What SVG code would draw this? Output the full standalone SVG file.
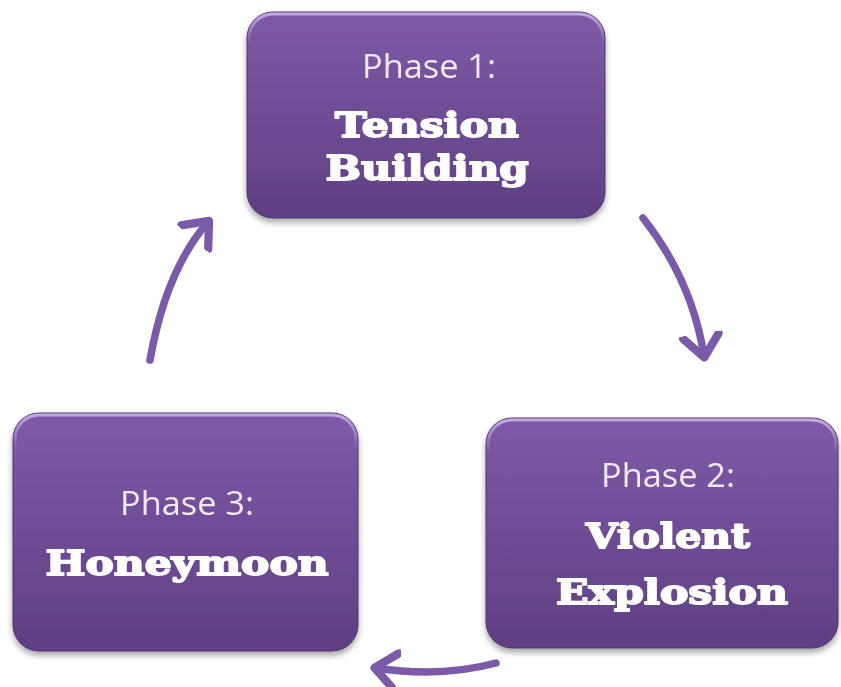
<svg xmlns="http://www.w3.org/2000/svg" width="841" height="687" viewBox="0 0 841 687">
<defs>
<linearGradient id="g" x1="0" y1="0" x2="0" y2="1">
<stop offset="0" stop-color="#7f5aa8"/>
<stop offset="1" stop-color="#5f3f82"/>
</linearGradient>
<linearGradient id="hl" x1="0" y1="0" x2="0" y2="1">
<stop offset="0" stop-color="#c9b2e6" stop-opacity="0.9"/>
<stop offset="0.15" stop-color="#c9b2e6" stop-opacity="0"/>
</linearGradient>
<filter id="sh" x="-10%" y="-10%" width="120%" height="125%">
<feGaussianBlur in="SourceAlpha" stdDeviation="3"/>
<feOffset dx="0" dy="4"/>
<feComponentTransfer><feFuncA type="linear" slope="0.35"/></feComponentTransfer>
<feMerge><feMergeNode/><feMergeNode in="SourceGraphic"/></feMerge>
</filter>
<marker id="ah" markerWidth="6" markerHeight="6" refX="3" refY="3" orient="auto" markerUnits="strokeWidth">
<path d="M0.3,0.6 L3.2,3 L0.3,5.4" fill="none" stroke="#7b5aa9" stroke-width="1.1" stroke-linecap="round" stroke-linejoin="round"/>
</marker>
</defs>
<style>
.box{fill:url(#g);stroke:#4f3470;stroke-width:1}
.hl{fill:none;stroke:url(#hl);stroke-width:3}
.ph{font-family:"Open Sans","Liberation Sans",sans-serif;font-size:32px;fill:#f1eaf5;text-anchor:middle}
.bd{font-family:"DejaVu Serif","Liberation Serif",serif;font-weight:bold;font-size:34px;fill:#ffffff;stroke:#ffffff;stroke-width:1.8;stroke-linejoin:round;text-anchor:middle}
.con{fill:none;stroke:#7b5aa9;stroke-width:7.5;stroke-linecap:round;marker-end:url(#ah)}
</style>
<rect width="841" height="687" fill="#ffffff"/>
<g id="node1" filter="url(#sh)">
<rect class="box" x="247" y="12" width="358" height="206" rx="26"/>
<rect class="hl" x="249" y="14" width="354" height="202" rx="24"/>
<text class="ph" x="429" y="78" textLength="134" lengthAdjust="spacingAndGlyphs">Phase 1:</text>
<text class="bd" x="427" y="137" textLength="184" lengthAdjust="spacingAndGlyphs">Tension</text>
<text class="bd" x="427" y="180" textLength="203" lengthAdjust="spacingAndGlyphs">Building</text>
</g>
<g id="node2" filter="url(#sh)">
<rect class="box" x="486" y="418" width="352" height="230" rx="26"/>
<rect class="hl" x="488" y="420" width="348" height="226" rx="24"/>
<text class="ph" x="668" y="487" textLength="134" lengthAdjust="spacingAndGlyphs">Phase 2:</text>
<text class="bd" x="668" y="548" textLength="164" lengthAdjust="spacingAndGlyphs">Violent</text>
<text class="bd" x="672" y="604" textLength="232" lengthAdjust="spacingAndGlyphs">Explosion</text>
</g>
<g id="node3" filter="url(#sh)">
<rect class="box" x="13" y="413" width="345" height="238" rx="26"/>
<rect class="hl" x="15" y="415" width="341" height="234" rx="24"/>
<text class="ph" x="187" y="515" textLength="134" lengthAdjust="spacingAndGlyphs">Phase 3:</text>
<text class="bd" x="187" y="575" textLength="283" lengthAdjust="spacingAndGlyphs">Honeymoon</text>
</g>
<g id="connectors">
<path class="con" d="M150,360 Q166,270 208,222"/>
<path class="con" d="M643,218 Q692,280 704,356"/>
<path class="con" d="M496,663 Q440,678 376,668"/>
</g>
</svg>
